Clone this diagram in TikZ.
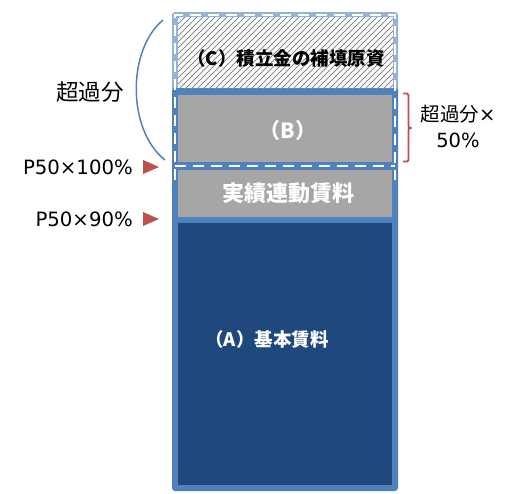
\documentclass[tikz,border=0pt]{standalone}
\usepackage{fontspec}
\setmainfont{DejaVu Sans}
\newfontfamily\jp{Noto Sans CJK JP}
\definecolor{bordblue}{HTML}{4F81BD}
\definecolor{lightblue}{HTML}{95B3D7}
\definecolor{navy}{HTML}{1F497D}
\definecolor{midgray}{HTML}{A6A6A6}
\definecolor{redc}{HTML}{C0504D}
\definecolor{hatchgray}{HTML}{8C8C8C}
\tikzset{
  lbl/.style={inner sep=0pt, text=black},
  wlbl/.style={inner sep=0pt, text=white, font=\jp\bfseries},
  whdash/.style={draw=white, line width=2pt, dash pattern=on 11pt off 7pt},
  hatch/.style={draw=hatchgray, line width=0.8pt},
  tri/.style={fill=redc, draw=none},
}
\begin{document}
\begin{tikzpicture}[x=1pt,y=-1pt]
\useasboundingbox (0,0) rectangle (506,493);
% outer frames
\fill[lightblue, rounded corners=3pt] (172,12) rectangle (398,96);
\fill[bordblue, rounded corners=3pt] (172,88) rectangle (398,491);
% C hatched region
\fill[white] (178,17) rectangle (393,88);
\begin{scope}
  \clip (178,17) rectangle (393,88);
  \foreach \i in {-90,-84,...,240} \draw[hatch] (178+\i,90) -- ++(80,-80);
\end{scope}
% B region
\fill[midgray] (178,95) rectangle (392,162);
% jisseki region
\fill[midgray] (178,170) rectangle (392,217);
% A region
\fill[navy] (178,223) rectangle (392,485);
% white dashed outline
\draw[whdash] (174.5,180) -- (174.5,15) -- (395,15) -- (395,180);
\draw[whdash] (174.5,165.5) -- (395,165.5);
% labels inside
\node[lbl, font=\jp\bfseries\fontsize{18.5}{20}\selectfont] (c) at (286,58) {（C）積立金の補填原資};
\node[wlbl, font=\jp\bfseries\fontsize{21}{24}\selectfont] (b) at (288,131) {（B）};
\node[wlbl, font=\jp\bfseries\fontsize{22}{24}\selectfont] (r) at (288,193) {実績連動賃料};
\node[wlbl, font=\jp\bfseries\fontsize{18.5}{20}\selectfont] (a) at (267,339) {（A）基本賃料};
% left annotations
\node[lbl, font=\jp\fontsize{22.5}{24}\selectfont] (ex) at (90,92) {超過分};
\coordinate (arcT) at (163,20);
\coordinate (arcB) at (165,160);
\draw[bordblue, line width=1.5pt] (arcT) .. controls (127,50) and (127,130) .. (arcB);
\node[lbl, anchor=east, font=\fontsize{19.7}{22}\selectfont] (p100) at (133,167.5) {P50×100\%};
\node[lbl, anchor=east, font=\fontsize{19.7}{22}\selectfont] (p90) at (133,219.5) {P50×90\%};
\fill[tri] (143,160) -- (159,167) -- (143,174) -- cycle;
\fill[tri] (143,212) -- (159,219) -- (143,226) -- cycle;
% right bracket
\coordinate (brT) at (403,93.5);
\coordinate (brB) at (403,161.5);
\draw[redc, line width=1.8pt, rounded corners=1.5pt] (brT) -- (408.5,93.5) -- (408.5,128) -- (413,128) -- (408.5,128) -- (408.5,161.5) -- (brB);
\node[lbl, font=\fontsize{19.5}{22}\selectfont] (h1) at (458,114) {{\jp 超過分}×};
\node[lbl, font=\fontsize{19.5}{22}\selectfont] (h2) at (458,140) {50\%};
\end{tikzpicture}
\end{document}
